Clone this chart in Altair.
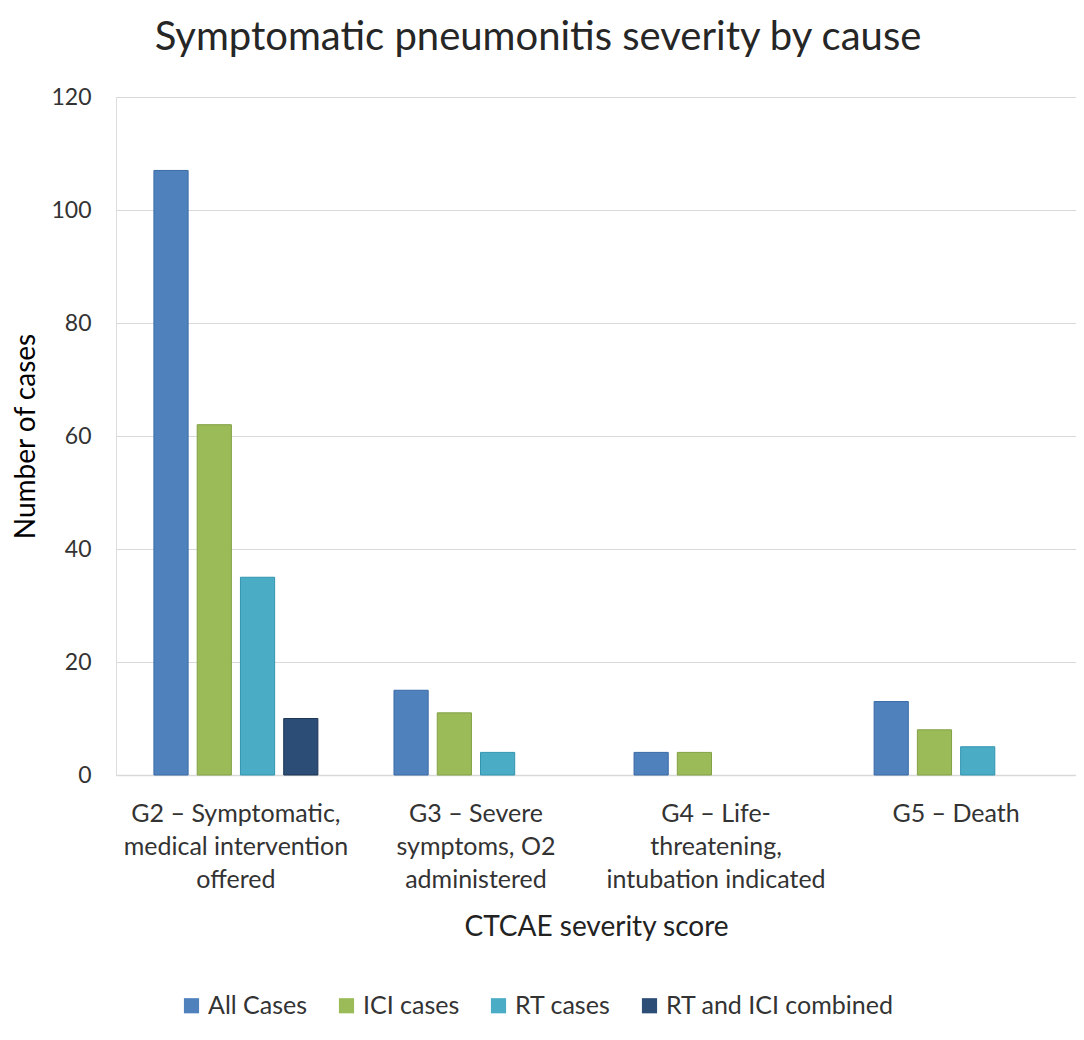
import altair as alt
import pandas as pd

categories = [
    "G2 – Symptomatic,|medical intervention|offered",
    "G3 – Severe|symptoms, O2|administered",
    "G4 – Life-|threatening,|intubation indicated",
    "G5 – Death",
]
series = ["All Cases", "ICI cases", "RT cases", "RT and ICI combined"]
all_cases = [107, 15, 4, 13]
ici_cases = [62, 11, 4, 8]
rt_cases = [35, 4, 0, 5]
combined = [10, 0, 0, 0]
y_ticks = [0, 20, 40, 60, 80, 100, 120]

colors = ["#4F81BD", "#9BBB59", "#4BACC6", "#2C4D75"]
strokes = ["#3A6AA5", "#82A044", "#3395AF", "#1E3756"]

rows = []
for vals, s in zip([all_cases, ici_cases, rt_cases, combined], series):
    for c, v in zip(categories, vals):
        rows.append({"category": c, "series": s, "value": v})
df = pd.DataFrame(rows)

FONT = "Lato"

chart = (
    alt.Chart(df)
    .transform_filter("datum.value > 0")
    .mark_bar(strokeWidth=1)
    .encode(
        x=alt.X(
            "category:N",
            sort=categories,
            scale=alt.Scale(paddingInner=0.317, paddingOuter=0.158),
            axis=alt.Axis(
                title="CTCAE severity score",
                labelExpr="split(datum.label, '|')",
                labelAngle=0,
                labelFontSize=25,
                labelLineHeight=33,
                labelPadding=26,
                labelLimit=400,
                labelColor="#333333",
                labelFont=FONT,
                ticks=False,
                domainColor="#D9D9D9",
                domainWidth=1.5,
                titleFont=FONT,
                titleFontSize=28,
                titleFontWeight="normal",
                titleColor="#222222",
                titleY=152,
                titleBaseline="middle",
            ),
        ),
        xOffset=alt.XOffset(
            "series:N",
            sort=series,
            scale=alt.Scale(domain=series, paddingInner=0.21, paddingOuter=0),
        ),
        y=alt.Y(
            "value:Q",
            scale=alt.Scale(domain=[0, 120], nice=False),
            axis=alt.Axis(
                title="Number of cases",
                values=y_ticks,
                grid=True,
                gridColor="#D9D9D9",
                gridWidth=1.2,
                domain=False,
                ticks=False,
                labelPadding=25,
                labelFontSize=23,
                labelColor="#333333",
                labelFont=FONT,
                titleFont=FONT,
                titleFontSize=28,
                titleFontWeight="normal",
                titleColor="#000000",
                titleX=-90,
                titleY=339,
                titleAngle=270,
                titleBaseline="middle",
                titleAlign="center",
            ),
        ),
        color=alt.Color(
            "series:N",
            sort=series,
            scale=alt.Scale(domain=series, range=colors),
            legend=alt.Legend(
                title=None,
                orient="none",
                legendX=63,
                legendY=896,
                direction="horizontal",
                symbolType="square",
                symbolSize=230,
                symbolStrokeWidth=0,
                labelFont=FONT,
                labelFontSize=25,
                labelLimit=400,
                labelColor="#333333",
                labelOffset=4,
                columnPadding=26,
            ),
        ),
        stroke=alt.Stroke(
            "series:N",
            sort=series,
            scale=alt.Scale(domain=series, range=strokes),
            legend=None,
        ),
    )
    .properties(
        width=960,
        height=678,
        title=alt.TitleParams(
            "Symptomatic pneumonitis severity by cause",
            font=FONT,
            fontSize=40,
            fontWeight="normal",
            color="#262626",
            anchor="middle",
            dx=-58,
            offset=28,
        ),
        autosize=alt.AutoSizeParams(type="none"),
        padding={"left": 108, "top": 89, "right": 0, "bottom": 250},
    )
    .configure_view(stroke=None)
    .configure(background="white")
)

chart.save("out.html", embed_options={"renderer": "svg", "actions": False})
